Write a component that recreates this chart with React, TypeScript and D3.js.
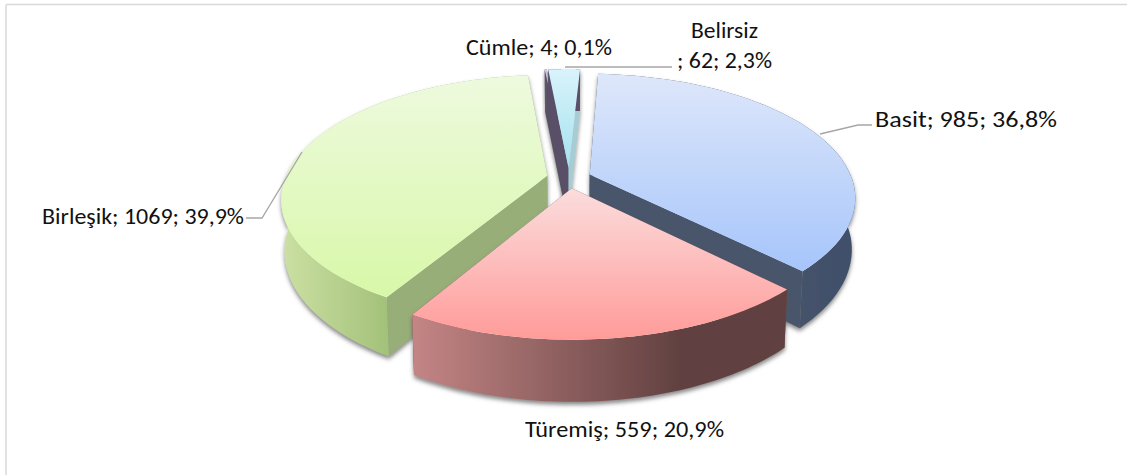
import React from "react";
import * as d3 from "d3";

const categories = ["Basit", "Türemiş", "Birleşik", "Cümle", "Belirsiz"];
const counts = [985, 559, 1069, 4, 62];
const percents = ["36,8%", "20,9%", "39,9%", "0,1%", "2,3%"];

const W = 1133, H = 475;
const CX = 569, CY = 178, RX = 262, RY = 120, K = 0.18, EXPLODE = 0.085, DEPTH = 50, BOTTOM_SCALE = 0.988;
const ROT = (3 * Math.PI) / 180;

const palette = [
  { top: ["#dfe8fa", "#a6c5fb"], wall: ["#48536b", "#3f4f6b"], inner: "#49546a", y: [70, 272] },
  { top: ["#fbdcdc", "#ff9b99"], wall: ["#c38484", "#614140"], inner: "#6a4644", y: [190, 340] },
  { top: ["#eefadf", "#d8f8a8"], wall: ["#cbe0a3", "#a2c078"], inner: "#98ae78", y: [72, 298] },
  { top: ["#dcd6ee", "#b8b0d8"], wall: ["#5f5670", "#4f4860"], inner: "#5a5068", y: [68, 170] },
  { top: ["#d9f3fb", "#a4e2ee"], wall: ["#5a5068", "#5a5068"], inner: "#5a5068", y: [68, 170] },
];

const pieGen = d3.pie<number>().sort(null).startAngle(ROT).endAngle(2 * Math.PI + ROT);
const arcs = pieGen(counts);
const xScale = d3.scaleLinear().domain([0, 1]).range([CX, CX + RX]);
const yScale = d3.scaleLinear().domain([0, 1]).range([CY, CY + RY]);

function project(nx: number, ny: number, low = false): [number, number] {
  const s = 1 / (1 - K * ny);
  const x = xScale(nx * s);
  const y = yScale(ny * s);
  if (!low) return [x, y];
  return [CX + (x - CX) * BOTTOM_SCALE, y + DEPTH * s];
}

const line = d3.line<[number, number]>();

function slicePaths(a0: number, a1: number) {
  const mid = (a0 + a1) / 2;
  const ex = EXPLODE * Math.sin(mid), ey = -EXPLODE * Math.cos(mid);
  const steps = d3.range(0, 61).map((i) => a0 + ((a1 - a0) * i) / 60);
  const rim = (low: boolean) => steps.map((t) => project(ex + Math.sin(t), ey - Math.cos(t), low));
  const apex = (low: boolean) => project(ex, ey, low);
  const topRim = rim(false), lowRim = rim(true);
  return {
    top: line([apex(false), ...topRim])! + "Z",
    outer: line([...topRim, ...lowRim.slice().reverse()])! + "Z",
    wallA: line([apex(false), topRim[0], lowRim[0], apex(true)])! + "Z",
    wallB: line([apex(false), topRim[60], lowRim[60], apex(true)])! + "Z",
  };
}

const drawOrder = [3, 4, 0, 2, 1];
const font = "Carlito, Calibri, Lato, 'Open Sans', sans-serif";
const labelColor = "#111";

const label = (i: number) => `${categories[i]}; ${counts[i]}; ${percents[i]}`;

const wallGrad = [
  { x1: 780, x2: 860 },
  { x1: 416, x2: 680 },
  { x1: 282, x2: 392 },
  { x1: 540, x2: 580 },
  { x1: 540, x2: 580 },
];

export default function App() {
  return (
    <svg width={W} height={H} style={{ position: "absolute", left: 0, top: 0, display: "block", background: "#fff" }}>
      <defs>
        <filter id="sh" x="-10%" y="-10%" width="120%" height="125%">
          <feDropShadow dx={0} dy={3} stdDeviation={2} floodColor="#555" floodOpacity={0.7} />
        </filter>
        {palette.map((p, i) => (
          <React.Fragment key={i}>
            <linearGradient id={`top${i}`} gradientUnits="userSpaceOnUse" x1={0} x2={0} y1={p.y[0]} y2={p.y[1]}>
              <stop offset="0" stopColor={p.top[0]} />
              <stop offset="1" stopColor={p.top[1]} />
            </linearGradient>
            <linearGradient id={`wall${i}`} gradientUnits="userSpaceOnUse" x1={wallGrad[i].x1} x2={wallGrad[i].x2} y1={0} y2={0}>
              <stop offset="0" stopColor={p.wall[0]} />
              <stop offset="1" stopColor={p.wall[1]} />
            </linearGradient>
          </React.Fragment>
        ))}
      </defs>
      <path d="M6,475V4.5" fill="none" stroke="#e2e2e2" strokeWidth={2} />
      <path d="M6,4.5H1127" fill="none" stroke="#d9d9d9" strokeWidth={1.3} />
      {drawOrder.map((i) => {
        const a = arcs[i];
        const p = slicePaths(a.startAngle, a.endAngle);
        return (
          <g key={i}>
            <g filter="url(#sh)">
              <path d={p.wallA} fill={palette[i].inner} />
              <path d={p.wallB} fill={i === 4 ? "#a6ccd4" : palette[i].inner} />
              <path d={p.outer} fill={`url(#wall${i})`} />
            </g>
            <path d={p.top} fill={`url(#top${i})`} />
          </g>
        );
      })}
      <g fill="none" stroke="#a6a6a6" strokeWidth={1.3}>
        <path d="M565,67H672" />
        <path d="M820,134L858,125H872" />
        <path d="M302,152L262,218H246" />
      </g>
      <g fontFamily={font} fontSize={22} fill={labelColor}>
        <text x={875} y={127} textLength={182} lengthAdjust="spacingAndGlyphs">{label(0)}</text>
        <text x={525} y={437} textLength={199} lengthAdjust="spacingAndGlyphs">{label(1)}</text>
        <text x={42} y={224} textLength={202} lengthAdjust="spacingAndGlyphs">{label(2)}</text>
        <text x={466} y={55} textLength={146} lengthAdjust="spacingAndGlyphs">{label(3)}</text>
        <text x={691} y={38} textLength={67} lengthAdjust="spacingAndGlyphs">{categories[4]}</text>
        <text x={677} y={68} textLength={95} lengthAdjust="spacingAndGlyphs">{`; ${counts[4]}; ${percents[4]}`}</text>
      </g>
    </svg>
  );
}
